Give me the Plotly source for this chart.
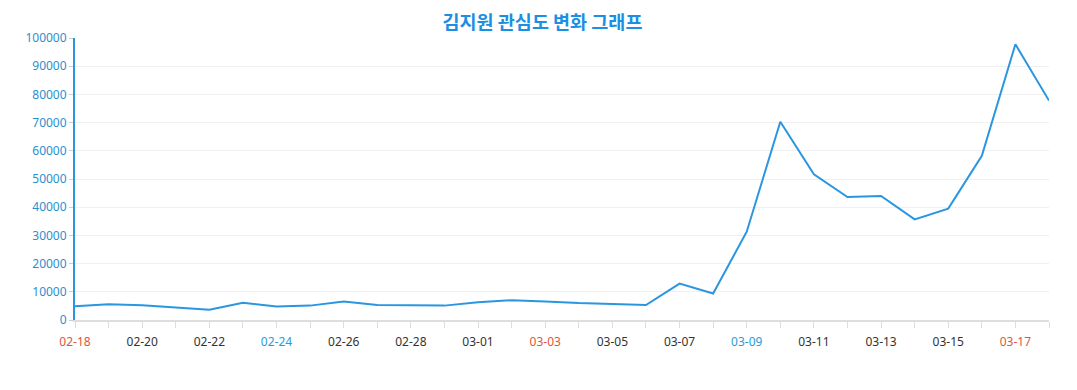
import plotly.graph_objects as go

dates = ["02-18","02-19","02-20","02-21","02-22","02-23","02-24","02-25","02-26","02-27",
         "02-28","02-29","03-01","03-02","03-03","03-04","03-05","03-06","03-07","03-08",
         "03-09","03-10","03-11","03-12","03-13","03-14","03-15","03-16","03-17","03-18"]
values = [4900, 5600, 5200, 4400, 3600, 6100, 4800, 5100, 6600, 5300,
          5200, 5100, 6300, 7000, 6600, 6000, 5700, 5300, 12900, 9400,
          31300, 70300, 51700, 43600, 44000, 35700, 39500, 58200, 97800, 77800]
red_labels = ["02-18", "03-03", "03-17"]
blue_labels = ["02-24", "03-09"]

def label(i, d):
    if i % 2:
        return ""
    if d in red_labels:
        return f'<span style="color:#e0553d">{d}</span>'
    if d in blue_labels:
        return f'<span style="color:#2a9bd8">{d}</span>'
    return d

xs = list(range(len(dates)))
fig = go.Figure()
fig.add_trace(go.Scatter(x=xs, y=values, mode="lines",
                         line=dict(color="#2a96e2", width=2), hoverinfo="skip"))
fig.update_layout(
    width=1069, height=382,
    margin=dict(l=67, r=28, t=30, b=70),
    paper_bgcolor="white", plot_bgcolor="white",
    showlegend=False,
    title=dict(text="<b>김지원 관심도 변화 그래프</b>", x=0.5, xref="container",
               y=0.962, yanchor="middle",
               font=dict(family="Noto Sans CJK KR", size=18.5, color="#1a8fe3")),
    font=dict(family="Noto Sans", size=12, color="#333"),
)
fig.update_xaxes(range=[0, len(dates) - 1], tickvals=xs,
                 ticktext=[label(i, d) for i, d in enumerate(dates)],
                 showgrid=False, zeroline=False, showline=True,
                 linecolor="#dddddd", linewidth=2,
                 ticks="outside", ticklen=6, tickcolor="#dddddd",
                 ticklabelstandoff=4,
                 tickfont=dict(size=12, color="#333"))
fig.update_yaxes(range=[0, 100000], dtick=10000, tickformat="d",
                 showgrid=True, gridcolor="#f0f0f0", zeroline=False,
                 showline=True, linecolor="#2a96e2", linewidth=2,
                 ticks="outside", ticklen=4, tickcolor="#cccccc",
                 tickfont=dict(size=12, color="#2a8fd0"))
fig.write_html("out.html")
